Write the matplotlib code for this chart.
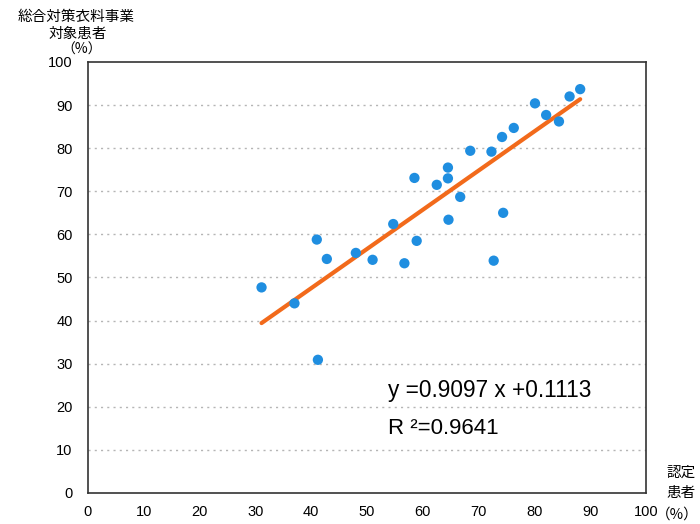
import matplotlib
matplotlib.use("Agg")
import matplotlib.pyplot as plt
import numpy as np

# data (%)
x_vals = [31.1, 37.0, 41.0, 41.2, 42.8, 48.0, 51.0, 54.7, 56.7, 58.5, 58.9, 62.5,
          64.5, 64.5, 64.6, 66.7, 68.5, 72.3, 72.7, 74.2, 74.4, 76.3, 80.1, 82.1,
          84.4, 86.3, 88.2]
y_vals = [47.7, 44.0, 58.8, 30.9, 54.3, 55.7, 54.1, 62.4, 53.3, 73.1, 58.5, 71.5,
          75.5, 73.0, 63.4, 68.7, 79.4, 79.2, 53.9, 82.6, 65.0, 84.7, 90.4, 87.7,
          86.2, 92.0, 93.7]
slope = 0.9097
intercept = 0.1113
r2 = 0.9641
x_ticks = [0, 10, 20, 30, 40, 50, 60, 70, 80, 90, 100]
y_ticks = [0, 10, 20, 30, 40, 50, 60, 70, 80, 90, 100]

latin = "Liberation Sans"
cjk = ["Noto Sans CJK JP", "DejaVu Sans"]

fig = plt.figure(figsize=(7.0, 5.24), dpi=100)
ax = fig.add_axes([0.1257, 0.0592, 0.7972, 0.8225])

for yv in y_ticks[1:-1]:
    ax.axhline(yv, color="#b5b5b5", lw=1.0, ls=(0, (1.5, 3)), zorder=0)

xs = np.array([min(x_vals), max(x_vals)])
ax.plot(xs, slope * xs + intercept * 100, color="#f26a1b", lw=3.0,
        solid_capstyle="round", zorder=2)
ax.scatter(x_vals, y_vals, s=55, color="#1f8ee0", edgecolors="none", zorder=3)

ax.set_xlim(0, 100)
ax.set_ylim(0, 100)
ax.set_xticks(x_ticks)
ax.set_yticks(y_ticks)
ax.tick_params(length=0, labelsize=10.5, pad=11)
ax.tick_params(axis="x", pad=9)
for lab in ax.get_xticklabels() + ax.get_yticklabels():
    lab.set_fontfamily(latin)
for s in ax.spines.values():
    s.set_color("#333333")
    s.set_linewidth(1.2)

fig.text(0.109, 0.968, "総合対策衣料事業", family=cjk, fontsize=10.5,
         ha="center", va="center")
fig.text(0.111, 0.936, "対象患者", family=cjk, fontsize=10.5,
         ha="center", va="center")
fig.text(0.117, 0.905, "（%）", family=cjk, fontsize=10,
         ha="center", va="center")

fig.text(0.973, 0.097, "認定", family=cjk, fontsize=10.5, ha="center", va="center")
fig.text(0.973, 0.059, "患者", family=cjk, fontsize=10.5, ha="center", va="center")
fig.text(0.967, 0.018, "（%）", family=cjk, fontsize=10.5, ha="center", va="center")

ax.text(0.554, 0.254, "y =0.9097 x +0.1113", transform=fig.transFigure,
        family=latin, fontsize=16.3, ha="left", va="center")
ax.text(0.554, 0.183, "R ²=0.9641", transform=fig.transFigure,
        family=latin, fontsize=16.0, ha="left", va="center")

fig.savefig("out.png", dpi=100)
